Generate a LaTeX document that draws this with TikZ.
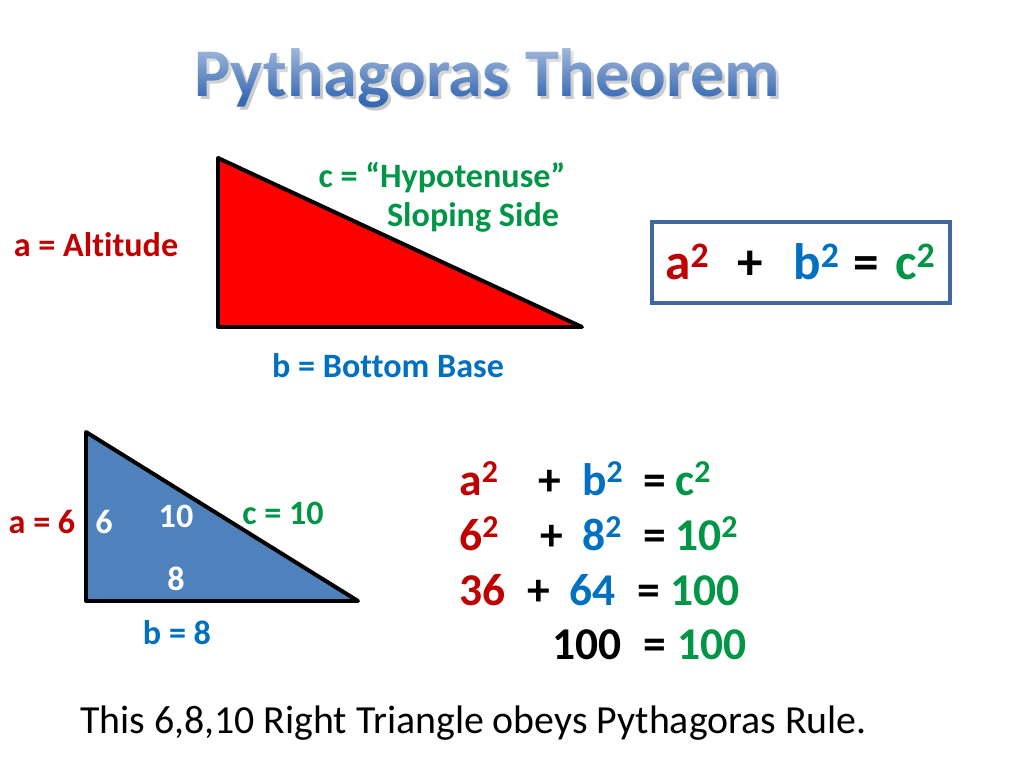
\documentclass[tikz,border=0pt]{standalone}
\usepackage{fontspec}
\setmainfont{Carlito}[Ligatures=NoCommon]
\usetikzlibrary{fadings}
\definecolor{tred}{RGB}{192,0,0}
\definecolor{tblue}{RGB}{0,112,192}
\definecolor{tgreen}{RGB}{0,150,70}
\definecolor{tribg}{RGB}{79,129,189}
\definecolor{boxc}{RGB}{65,105,160}
\definecolor{titlec}{RGB}{55,105,180}
\definecolor{shadowc}{RGB}{200,200,200}
\tikzfading[name=titlefade, top color=transparent!40, bottom color=transparent!100]
\newcommand\sqr{\textsuperscript{2}}
\begin{document}
\begin{tikzpicture}[x=0.703125pt,y=-0.703125pt,
  lbl/.style={font=\bfseries\fontsize{24}{28}\selectfont, inner sep=0pt, anchor=base},
  eq/.style={font=\bfseries\fontsize{32}{38}\selectfont, inner sep=0pt, anchor=base west},
  beq/.style={font=\bfseries\fontsize{36}{42}\selectfont, inner sep=0pt, anchor=base west},
  tri/.style={draw=black, line width=2.8pt, line join=round}]
\useasboundingbox (0,0) rectangle (1024,768);
% title
\node[font=\bfseries\fontsize{48}{56}\selectfont, text=shadowc, inner sep=0pt, anchor=base] (tshadow) at (490,100) {Pythagoras Theorem};
\node[font=\bfseries\fontsize{48}{56}\selectfont, text=titlec, inner sep=0pt, anchor=base] (title) at (487,97) {Pythagoras Theorem};
\fill[white, path fading=titlefade] (185,40) rectangle (790,100);
% big triangle
\coordinate (A1) at (218,158);
\coordinate (B1) at (218,327);
\coordinate (C1) at (582,327);
\draw[tri, fill=red] (A1) -- (B1) -- (C1) -- cycle;
\node[lbl, text=tgreen] (hyp) at (442,188) {c = “Hypotenuse”};
\node[lbl, text=tgreen] (slope) at (473,227) {Sloping Side};
\node[lbl, text=tred] (alt) at (96,257) {a = Altitude};
\node[lbl, text=tblue] (base) at (388,377) {b = Bottom Base};
% formula box
\node[draw=boxc, line width=2.2pt, minimum width=298*0.703125pt, minimum height=81*0.703125pt, inner sep=0pt] (box) at (801,262.5) {};
\node[beq, text=tred] (ba) at (665,280) {a\sqr};
\node[beq] (bp) at (737,280) {+};
\node[beq, text=tblue] (bb) at (793,280) {b\sqr};
\node[beq] (be) at (853,280) {=};
\node[beq, text=tgreen] (bc) at (895,280) {c\sqr};
% small triangle
\coordinate (A2) at (86,432);
\coordinate (B2) at (86,601);
\coordinate (C2) at (358,601);
\draw[tri, fill=tribg] (A2) -- (B2) -- (C2) -- cycle;
\node[lbl, text=tred] (a6) at (42,533) {a = 6};
\node[lbl, text=white] (w6) at (104,533) {6};
\node[lbl, text=white] (w10) at (176,527) {10};
\node[lbl, text=tgreen] (c10) at (283,524) {c = 10};
\node[lbl, text=white] (w8) at (176,590) {8};
\node[lbl, text=tblue] (b8) at (177,644) {b = 8};
% equations
\node[eq, text=tred] (r1a) at (459,495) {a\sqr};
\node[eq] (r1p) at (538,495) {+};
\node[eq, text=tblue] (r1b) at (582,495) {b\sqr};
\node[eq] (r1e) at (643,495) {=};
\node[eq, text=tgreen] (r1c) at (675,495) {c\sqr};
\node[eq, text=tred] (r2a) at (459,550) {6\sqr};
\node[eq] (r2p) at (540,550) {+};
\node[eq, text=tblue] (r2b) at (582,550) {8\sqr};
\node[eq] (r2e) at (643,550) {=};
\node[eq, text=tgreen] (r2c) at (675,550) {10\sqr};
\node[eq, text=tred] (r3a) at (459,605) {36};
\node[eq] (r3p) at (527,605) {+};
\node[eq, text=tblue] (r3b) at (569,605) {64};
\node[eq] (r3e) at (637,605) {=};
\node[eq, text=tgreen] (r3c) at (670,605) {100};
\node[eq] (r4a) at (552,659) {100};
\node[eq] (r4e) at (643,659) {=};
\node[eq, text=tgreen] (r4c) at (677,659) {100};
% bottom sentence
\node[font=\fontsize{28}{34}\selectfont, inner sep=0pt, anchor=base west] (note) at (80,733) {This 6,8,10 Right Triangle obeys Pythagoras Rule.};
\end{tikzpicture}
\end{document}
